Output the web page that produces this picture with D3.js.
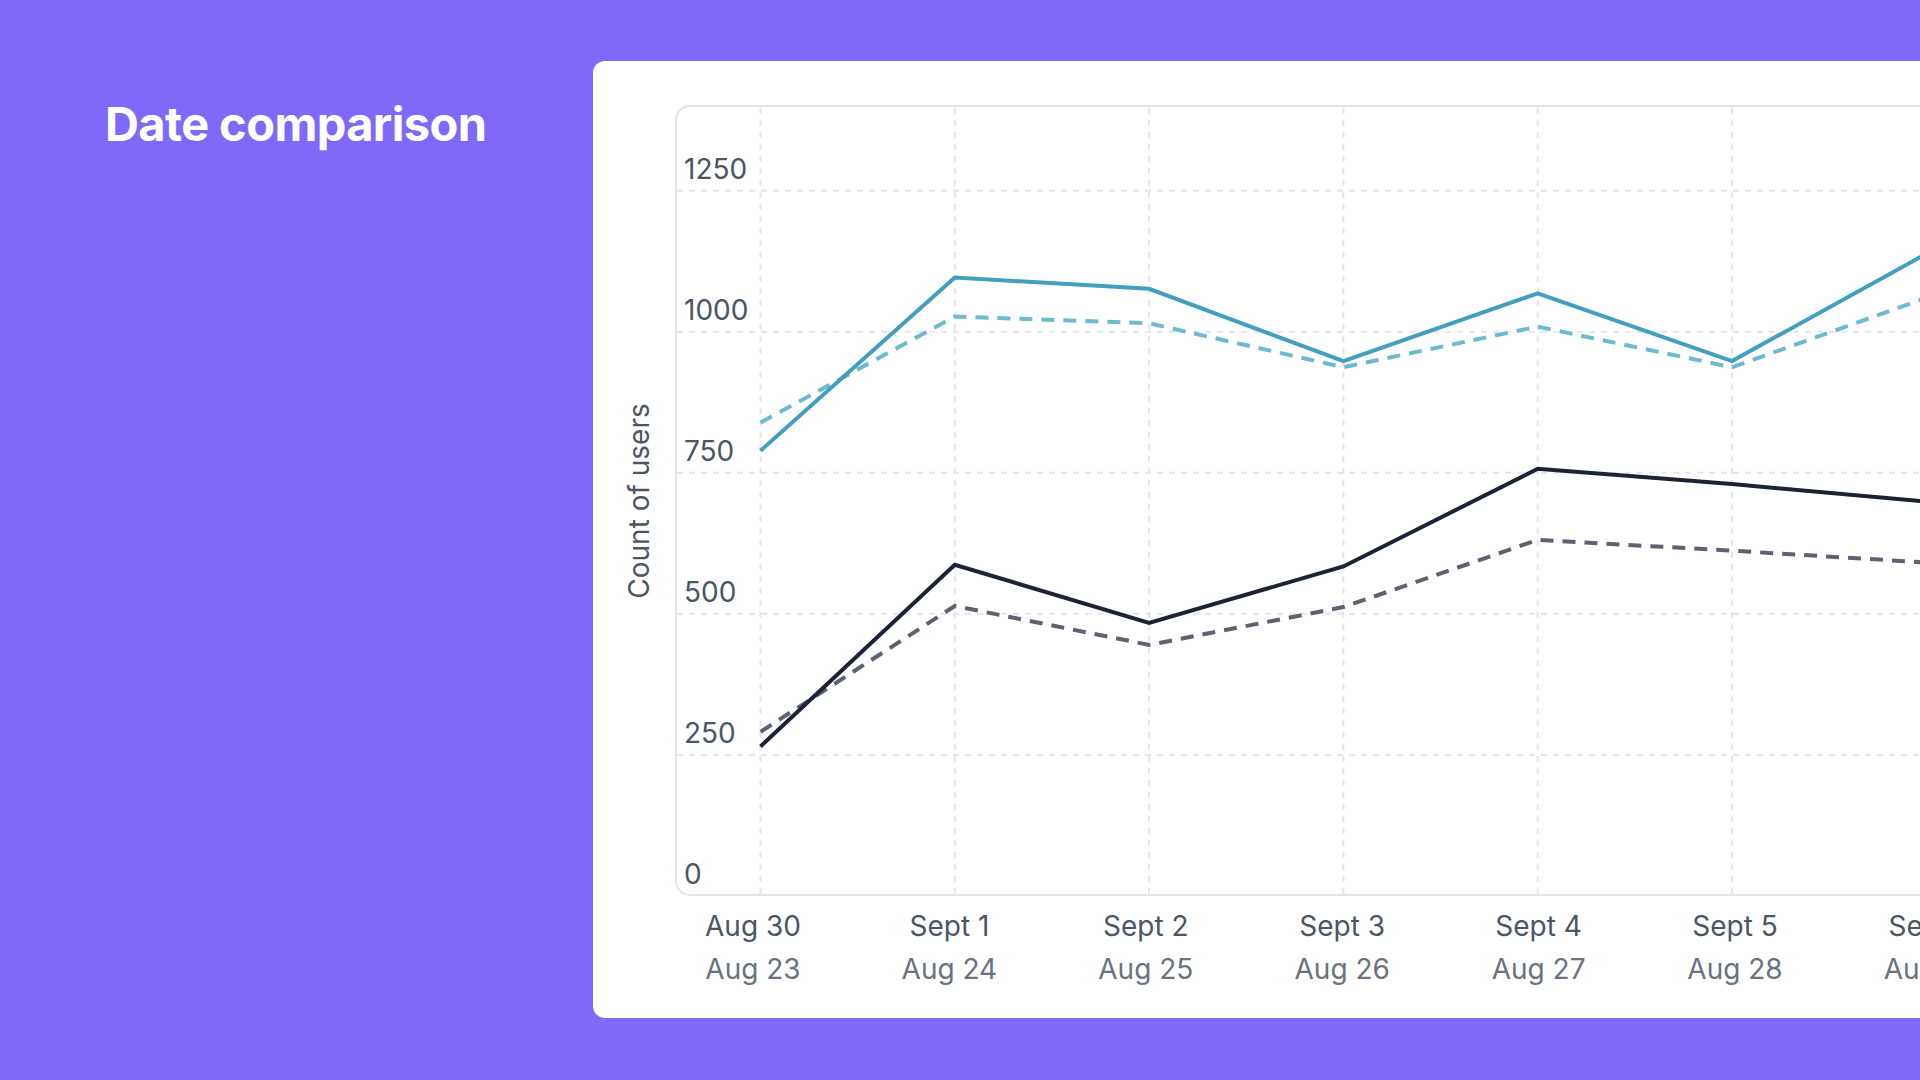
<!DOCTYPE html>
<html>
<head>
<meta charset="utf-8">
<title>Date comparison</title>
<script src="https://cdn.jsdelivr.net/npm/d3@7"></script>
<style>
    html, body { margin: 0; padding: 0; background: #8069f8; }
    svg { display: block; font-family: Inter, "Noto Sans", sans-serif; }
</style>
</head>
<body>
<svg id="chart" width="1920" height="1080"></svg>
<script>
(function () {
    "use strict";

    // --- Data ---
    const categories = ["Aug 30", "Sept 1", "Sept 2", "Sept 3", "Sept 4", "Sept 5", "Sept 6"];
    const prevLabels = ["Aug 23", "Aug 24", "Aug 25", "Aug 26", "Aug 27", "Aug 28", "Aug 29"];
    const tealCurrent = [789, 1096, 1076, 948, 1068, 948, 1138];
    const tealPrevious = [839, 1027, 1015, 937, 1009, 937, 1060];
    const navyCurrent = [265, 587, 484, 584, 757, 730, 699];
    const grayPrevious = [291, 514, 445, 512, 631, 612, 591];
    const yTicks = [0, 250, 500, 750, 1000, 1250];

    const svg = d3.select("#chart");

    // background + title
    svg.append("rect").attr("width", 1920).attr("height", 1080).attr("fill", "#8069f8");
    svg.append("text")
        .attr("x", 105).attr("y", 141)
        .attr("fill", "#ffffff")
        .attr("font-size", 47).attr("font-weight", 700)
        .attr("letter-spacing", "-0.6px")
        .text("Date comparison");

    // card
    svg.append("rect")
        .attr("x", 593).attr("y", 61)
        .attr("width", 1400).attr("height", 957)
        .attr("rx", 12)
        .attr("fill", "#ffffff");

    // plot frame
    const frame = { left: 676, top: 106, bottom: 895 };

    const x = d3.scalePoint().domain(categories).range([760.5, 760.5 + 194.3 * (categories.length - 1)]);
    // labels sit on a slightly wider step than the gridlines
    const xLabel = d3.scalePoint().domain(categories).range([753, 753 + 196.4 * (categories.length - 1)]);
    const y = d3.scaleLinear().domain([0, 1400]).range([896, 106]);

    svg.append("rect")
        .attr("x", frame.left).attr("y", frame.top)
        .attr("width", 1400).attr("height", frame.bottom - frame.top)
        .attr("rx", 14)
        .attr("fill", "none")
        .attr("stroke", "#e3e5ea")
        .attr("stroke-width", 2);

    // grid
    const grid = svg.append("g").attr("stroke", "#e3e5ea").attr("stroke-width", 2).attr("stroke-dasharray", "6,6");
    grid.selectAll("line.h")
        .data(yTicks.filter(function (d) { return d > 0; }))
        .join("line")
        .attr("class", "h")
        .attr("x1", frame.left + 1).attr("x2", 1920)
        .attr("y1", function (d) { return y(d); })
        .attr("y2", function (d) { return y(d); });
    grid.selectAll("line.v")
        .data(categories)
        .join("line")
        .attr("class", "v")
        .attr("x1", function (d) { return x(d); })
        .attr("x2", function (d) { return x(d); })
        .attr("y1", frame.top + 2).attr("y2", frame.bottom - 1);

    // y tick labels (inside the frame, above the gridline)
    svg.append("g").selectAll("text")
        .data(yTicks)
        .join("text")
        .attr("x", 684)
        .attr("y", function (d) { return y(d) - 12; })
        .attr("fill", "#4b5563")
        .attr("font-size", 28)
        .text(function (d) { return d; });

    // y axis title
    svg.append("text")
        .attr("transform", "translate(649,501) rotate(-90)")
        .attr("text-anchor", "middle")
        .attr("fill", "#4b5563")
        .attr("font-size", 28)
        .text("Count of users");

    // x labels
    const xl = svg.append("g").attr("text-anchor", "middle").attr("font-size", 28);
    xl.selectAll("text.cur")
        .data(categories)
        .join("text")
        .attr("class", "cur")
        .attr("x", function (d) { return xLabel(d); })
        .attr("y", 936)
        .attr("fill", "#4b5563")
        .text(function (d) { return d; });
    xl.selectAll("text.prev")
        .data(categories)
        .join("text")
        .attr("class", "prev")
        .attr("x", function (d) { return xLabel(d); })
        .attr("y", 979)
        .attr("fill", "#6b7280")
        .text(function (d, i) { return prevLabels[i]; });

    // lines
    const line = d3.line()
        .x(function (d, i) { return x(categories[i]); })
        .y(function (d) { return y(d); });

    const series = [
        { values: grayPrevious, color: "#5d6171", dash: "13,9" },
        { values: navyCurrent, color: "#1c2336", dash: null },
        { values: tealPrevious, color: "#6dbad0", dash: "13,9" },
        { values: tealCurrent, color: "#429fbe", dash: null }
    ];

    svg.append("g").selectAll("path")
        .data(series)
        .join("path")
        .attr("d", function (s) { return line(s.values); })
        .attr("fill", "none")
        .attr("stroke", function (s) { return s.color; })
        .attr("stroke-width", 4)
        .attr("stroke-linejoin", "miter")
        .attr("stroke-dasharray", function (s) { return s.dash; });
})();
</script>
</body>
</html>
